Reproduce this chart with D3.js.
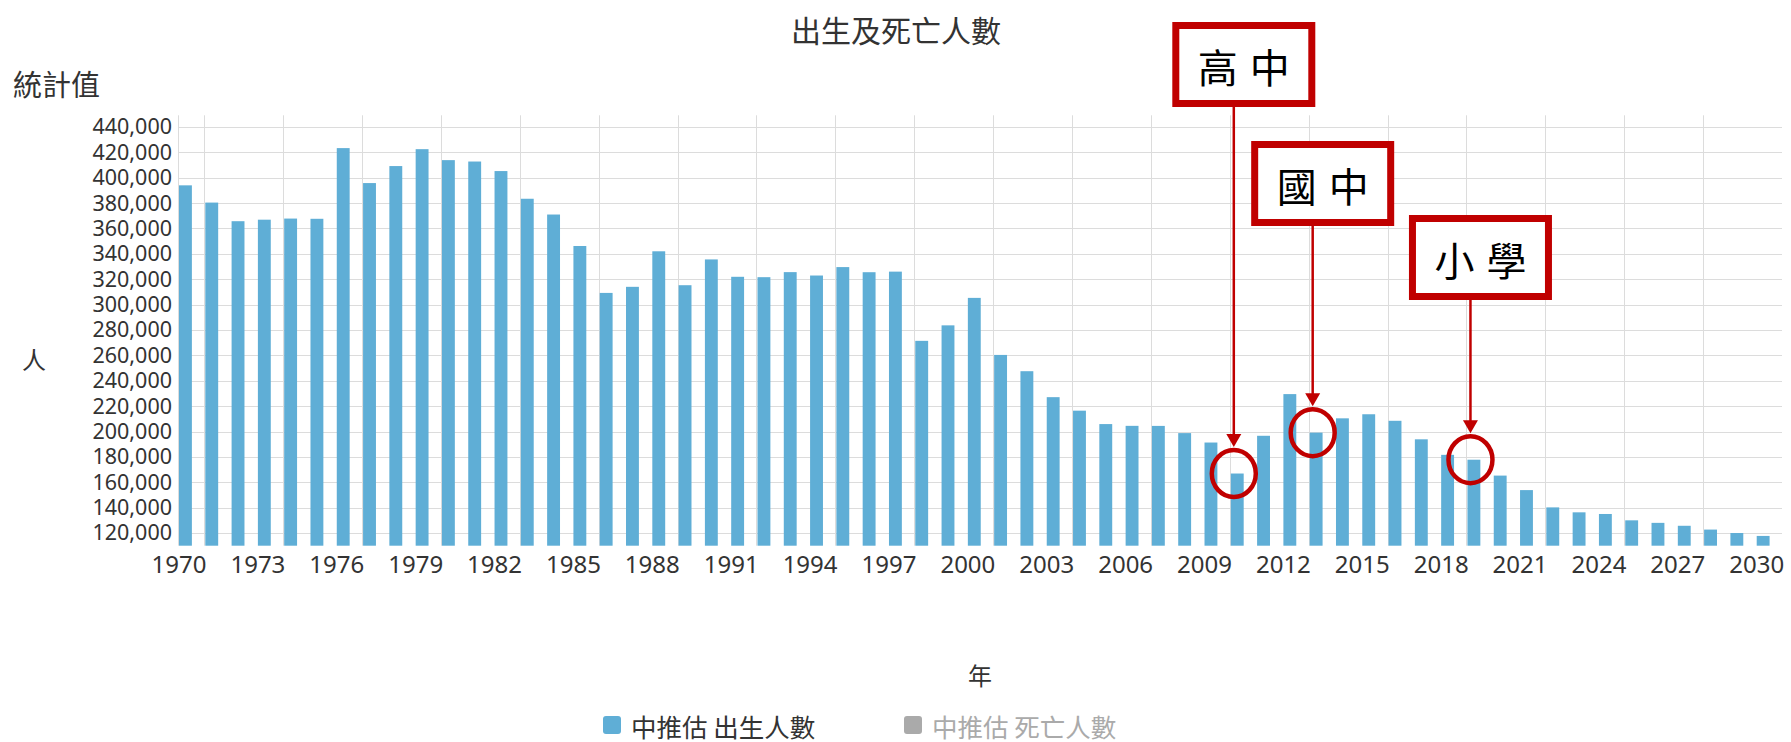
<!DOCTYPE html>
<html><head><meta charset="utf-8">
<script src="https://cdn.jsdelivr.net/npm/d3@7/dist/d3.min.js"></script>
<style>
html,body{margin:0;padding:0;background:#fff;}
svg{display:block;}
</style></head>
<body>
<svg id="chart" width="1791" height="742"></svg>
<script>
const years = d3.range(1970, 2031);
const births = [
  394015, 380424, 365749, 366942, 367823, 367647, 423356, 395796, 409203, 422518,
  413881, 412779, 405263, 383439, 371008, 346208, 309230, 314024, 342031, 315299,
  335618, 321932, 321632, 325613, 322938, 329581, 325545, 326002, 271450, 283661,
  305312, 260354, 247530, 227070, 216419, 205854, 204459, 204414, 198733, 191310,
  166886, 196627, 229481, 199113, 210383, 213598, 208440, 193844, 181601, 177767,
  165249, 153820, 140200, 136300, 135000, 130000, 128000, 125700, 122700, 120000, 117700
];
const yTicks = d3.range(120000, 440001, 20000);
const xTickYears = d3.range(1970, 2031, 3);
const gridYears = d3.range(1971, 2029, 3);
const annotations = [
  {label: "高中", year: 2010, boxTop: 22},
  {label: "國中", year: 2013, boxTop: 141},
  {label: "小學", year: 2019, boxTop: 215}
];
const legendItems = [
  {label: "中推估 出生人數", color: "#5FAED6", text: "#333"},
  {label: "中推估 死亡人數", color: "#AAAAAA", text: "#AAAAAA"}
];

(function () {
const CJK = "'Noto Sans CJK TC','Noto Sans',sans-serif";
const NUM = "'Noto Sans','Open Sans',sans-serif";
const svg = d3.select("#chart");
const pLeft = 178, pRight = 1782, pTop = 114.3, pBottom = 545.7;

const x = d3.scaleBand().domain(years).range([pLeft, pRight]).paddingInner(0).paddingOuter(0);
const y = d3.scaleLinear().domain([110000, 450000]).range([pBottom, pTop]);
const barW = x.bandwidth() * 0.49;

// grid
const g = svg.append("g");
g.selectAll(".hg").data(yTicks).enter().append("line")
  .attr("x1", pLeft).attr("x2", pRight)
  .attr("y1", d => Math.round(y(d)) + 0.5).attr("y2", d => Math.round(y(d)) + 0.5)
  .attr("stroke", "#dcdcdc").attr("stroke-width", 1);
g.selectAll(".vg").data([1970].concat(gridYears)).enter().append("line")
  .attr("x1", d => Math.round(x(d)) + 0.5).attr("x2", d => Math.round(x(d)) + 0.5)
  .attr("y1", pTop + 1).attr("y2", pBottom)
  .attr("stroke", "#dcdcdc").attr("stroke-width", 1);

// bars
svg.append("g").selectAll("rect").data(years).enter().append("rect")
  .attr("x", d => x(d) + 1)
  .attr("width", barW)
  .attr("y", (d, i) => y(births[i]))
  .attr("height", (d, i) => pBottom - y(births[i]))
  .attr("fill", "#5FAED6");

// y axis
const yAxis = d3.axisLeft(y).tickValues(yTicks).tickSize(0).tickPadding(0)
  .tickFormat(d3.format(","));
const ya = svg.append("g").attr("transform", `translate(172,0)`).call(yAxis);
ya.select(".domain").remove();
ya.selectAll("text").attr("font-family", NUM).attr("font-size", 21.5).attr("fill", "#333");

// x axis
const xAxis = d3.axisBottom(x).tickValues(xTickYears).tickSize(0).tickPadding(0);
const xa = svg.append("g").attr("transform", `translate(${-x.bandwidth()/2 + 1},556)`).call(xAxis);
xa.select(".domain").remove();
xa.selectAll("text").attr("font-family", NUM).attr("font-size", 24).attr("fill", "#333")
  .attr("dy", "0.71em");

// titles
svg.append("text").attr("x", 896).attr("y", 29).attr("text-anchor", "middle")
  .attr("dominant-baseline", "central").attr("font-family", CJK).attr("font-size", 30)
  .attr("fill", "#333").text("出生及死亡人數");
svg.append("text").attr("x", 13).attr("y", 83)
  .attr("dominant-baseline", "central").attr("font-family", CJK).attr("font-size", 29)
  .attr("fill", "#333").text("統計值");
svg.append("text").attr("x", 34).attr("y", 358).attr("text-anchor", "middle")
  .attr("dominant-baseline", "central").attr("font-family", CJK).attr("font-size", 24)
  .attr("fill", "#333").text("人");
svg.append("text").attr("x", (pLeft + pRight) / 2).attr("y", 674).attr("text-anchor", "middle")
  .attr("dominant-baseline", "central").attr("font-family", CJK).attr("font-size", 24)
  .attr("fill", "#333").text("年");

// legend
const lg = svg.append("g");
const legendX = [603, 904];
legendItems.forEach((it, i) => {
  lg.append("rect").attr("x", legendX[i]).attr("y", 716).attr("width", 18).attr("height", 18)
    .attr("rx", 3).attr("fill", it.color);
  lg.append("text").attr("x", legendX[i] + 28).attr("y", 725)
    .attr("dominant-baseline", "central").attr("font-family", CJK).attr("font-size", 25.5)
    .attr("fill", it.text).text(it.label);
});

// annotations
const red = "#C00000";
const ann = svg.append("g");
annotations.forEach(a => {
  const i = years.indexOf(a.year);
  const ax = x(a.year) + 4;
  const cy = y(births[i]);
  const rx = 22, ry = 23.5;
  const cx = ax + 10;
  const bw = 143, bh = 85, sw = 7;
  ann.append("rect").attr("x", cx - bw/2 + sw/2).attr("y", a.boxTop + sw/2)
    .attr("width", bw - sw).attr("height", bh - sw)
    .attr("fill", "#fff").attr("stroke", red).attr("stroke-width", sw);
  ann.append("text").attr("x", cx + 6).attr("y", a.boxTop + bh/2 + 1)
    .attr("text-anchor", "middle").attr("dominant-baseline", "central")
    .attr("font-family", CJK).attr("font-size", 40).attr("letter-spacing", 12)
    .attr("fill", "#000").text(a.label);
  const tip = cy - ry - 3;
  ann.append("line").attr("x1", ax).attr("x2", ax)
    .attr("y1", a.boxTop + bh).attr("y2", tip - 10)
    .attr("stroke", red).attr("stroke-width", 2.5);
  ann.append("path")
    .attr("d", `M${ax - 7.5},${tip - 13} L${ax + 7.5},${tip - 13} L${ax},${tip} Z`)
    .attr("fill", red);
  ann.append("ellipse").attr("cx", ax).attr("cy", cy).attr("rx", rx).attr("ry", ry)
    .attr("fill", "none").attr("stroke", red).attr("stroke-width", 4.5);
});
})();
</script>
</body></html>
